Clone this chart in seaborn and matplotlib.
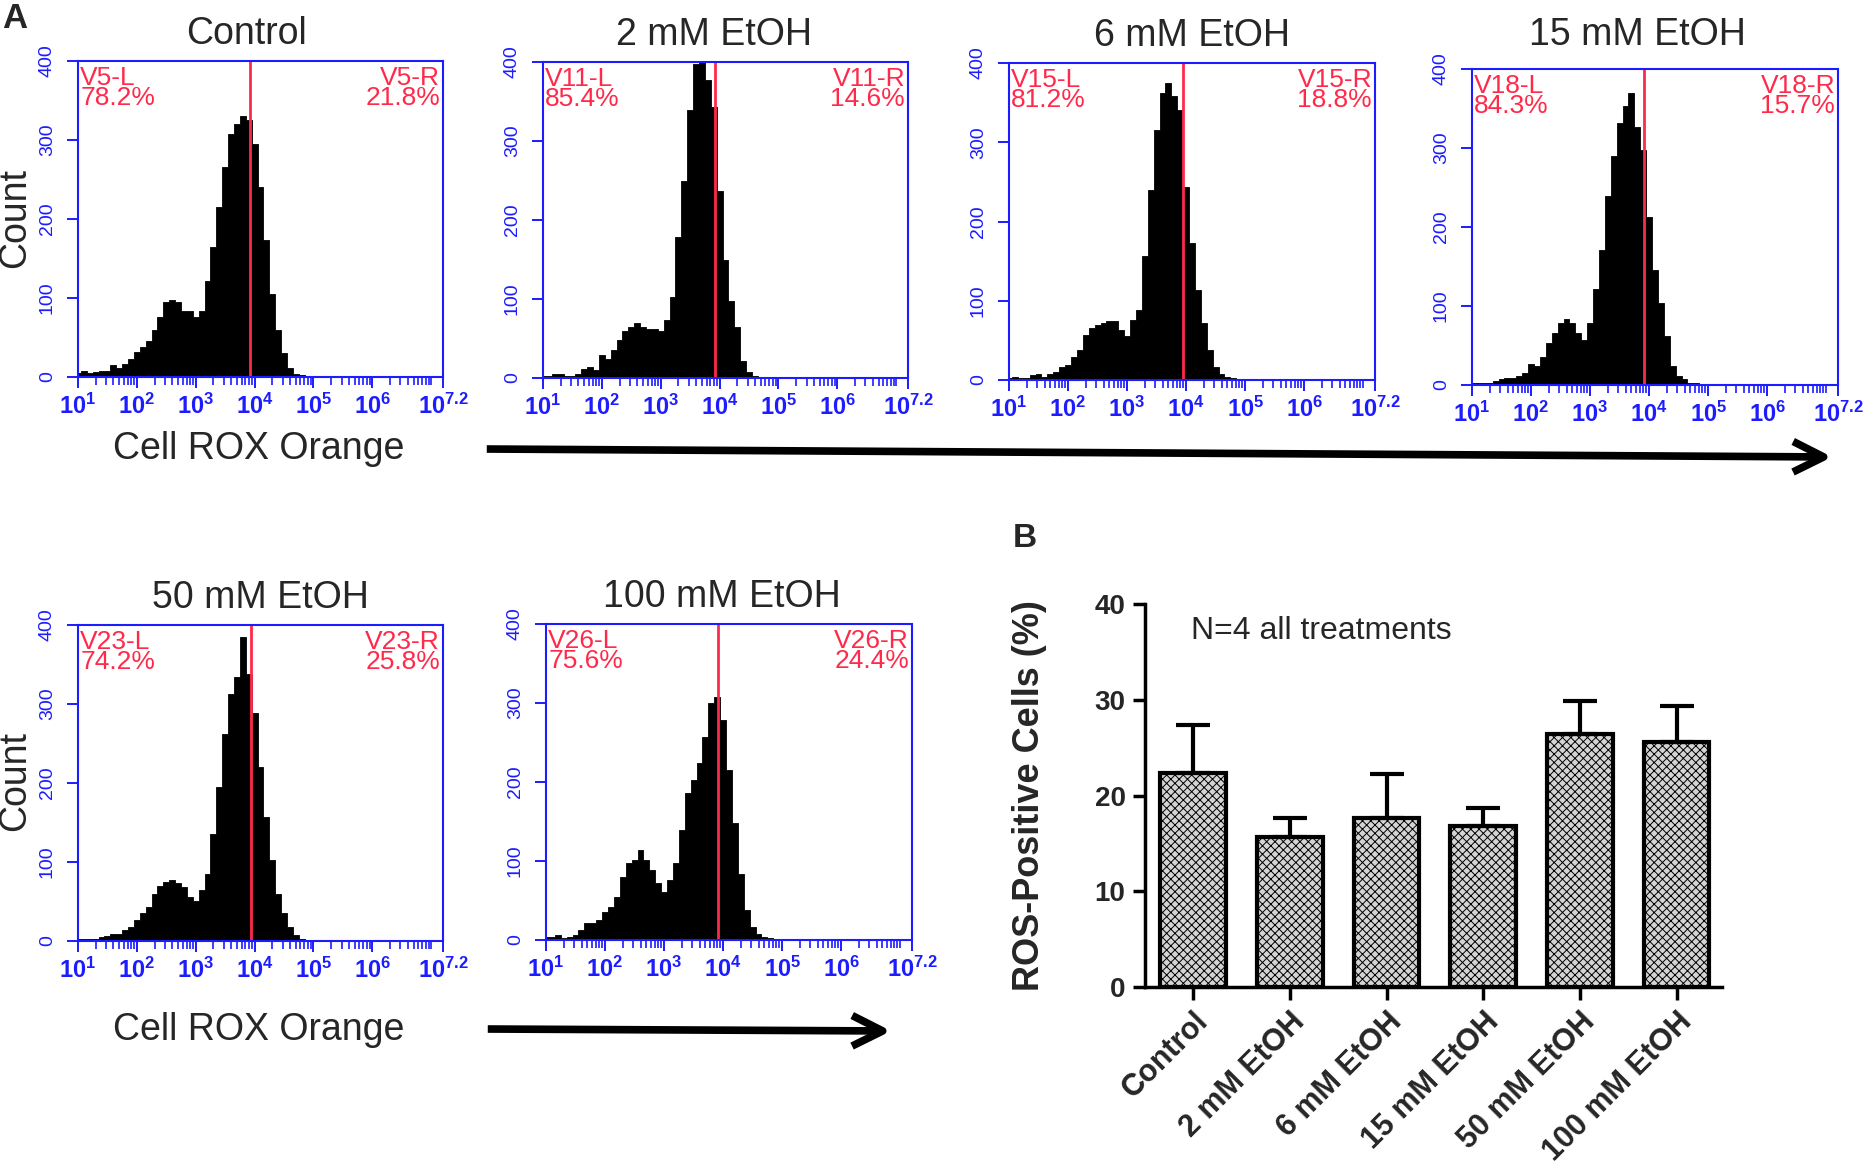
import numpy as np
import pandas as pd
import matplotlib.pyplot as plt
import seaborn as sns
from matplotlib.patches import FancyArrowPatch

sns.set_style('white')
plt.rcParams['font.family'] = ['Liberation Sans', 'DejaVu Sans']
plt.rcParams['mathtext.fontset'] = 'custom'
plt.rcParams['mathtext.rm'] = 'Liberation Sans:bold'
plt.rcParams['mathtext.it'] = 'Liberation Sans:bold'
plt.rcParams['mathtext.bf'] = 'Liberation Sans:bold'
plt.rcParams['hatch.linewidth'] = 0.7
plt.rcParams['hatch.color'] = '#4a4a4a'

BLUE = '#1c1cff'
RED = '#ff2a4a'

# ---- flow cytometry histograms (counts per 0.1-decade bin, log10 intensity 1.0 .. 4.9)
log_fl = np.round(np.arange(1.0, 5.0, 0.1), 1)
edges = [round(float(e), 2) for e in np.arange(0.95, 5.0, 0.1)]

counts_control = [5, 7, 5, 6, 8, 8, 15, 12, 17, 23,
                  32, 38, 46, 59, 76, 95, 97, 95, 84, 84,
                  76, 84, 122, 165, 215, 266, 308, 320, 331, 325,
                  295, 240, 173, 105, 59, 30, 11, 4, 2, 1]
counts_2mM = [3, 3, 5, 5, 3, 3, 5, 12, 14, 10,
              29, 24, 35, 48, 60, 65, 69, 65, 62, 62,
              60, 73, 103, 178, 250, 339, 398, 400, 377, 343,
              237, 149, 98, 65, 22, 8, 3, 1, 1, 0]
counts_6mM = [2, 4, 2, 2, 6, 8, 4, 8, 10, 17,
              19, 29, 38, 57, 65, 69, 72, 74, 74, 63,
              55, 76, 88, 156, 240, 316, 362, 375, 358, 341,
              244, 173, 114, 72, 38, 17, 8, 4, 2, 1]
counts_15mM = [3, 3, 3, 3, 5, 7, 9, 9, 11, 15,
               26, 24, 36, 53, 66, 78, 83, 78, 66, 57,
               78, 121, 171, 239, 290, 332, 353, 370, 327, 298,
               213, 146, 104, 62, 24, 11, 7, 3, 2, 1]
counts_50mM = [3, 3, 3, 3, 5, 6, 9, 9, 14, 18,
               26, 35, 43, 60, 70, 75, 77, 73, 68, 56,
               51, 64, 85, 136, 195, 262, 313, 334, 385, 338,
               288, 220, 157, 102, 60, 35, 18, 7, 3, 1]
counts_100mM = [4, 4, 6, 2, 4, 6, 13, 21, 21, 25,
                36, 42, 55, 80, 97, 101, 114, 101, 89, 72,
                61, 76, 97, 139, 186, 203, 224, 257, 300, 308,
                278, 215, 148, 84, 38, 17, 8, 4, 2, 1]

hist_titles = ['Control', '2 mM EtOH', '6 mM EtOH', '15 mM EtOH', '50 mM EtOH', '100 mM EtOH']
gates = [3.93, 3.93, 3.94, 3.92, 3.94, 3.92]
gate_names = ['V5', 'V11', 'V15', 'V18', 'V23', 'V26']
pct_left = ['78.2%', '85.4%', '81.2%', '84.3%', '74.2%', '75.6%']
pct_right = ['21.8%', '14.6%', '18.8%', '15.7%', '25.8%', '24.4%']

xtick_pos = [1, 2, 3, 4, 5, 6, 7.2]
xtick_lbl = [r'$10^{1}$', r'$10^{2}$', r'$10^{3}$', r'$10^{4}$', r'$10^{5}$', r'$10^{6}$', r'$10^{7.2}$']
ytick_pos = [0, 100, 200, 300, 400]

# ---- bar chart (panel B)
groups = ['Control', '2 mM EtOH', '6 mM EtOH', '15 mM EtOH', '50 mM EtOH', '100 mM EtOH']
ros_mean = [22.3, 15.7, 17.7, 16.8, 26.4, 25.6]
ros_sem = [5.1, 2.0, 4.5, 1.9, 3.5, 3.7]

W, H = 1865, 1170
fig = plt.figure(figsize=(W / 100, H / 100), dpi=100)


def px_axes(left, top, right, bottom):
    return fig.add_axes([left / W, 1 - bottom / H, (right - left) / W, (bottom - top) / H])


# pixel boxes of the six histogram panels, and small title offsets (px) seen in the figure
boxes = [(78, 61, 443, 377), (543, 62, 908, 378), (1009, 63, 1375, 380),
         (1472, 69, 1838, 385), (78, 625, 443, 941), (546, 624, 912, 940)]
title_dx = [-14, -11, 0, -18, 0, -7]
title_pad = [12, 12, 12, 17, 12, 12]
all_counts = [counts_control, counts_2mM, counts_6mM, counts_15mM, counts_50mM, counts_100mM]

minor_pos = [n + np.log10(k) for n in range(1, 7) for k in range(2, 10)] + [7.0]

for i in range(6):
    ax = px_axes(*boxes[i])
    df = pd.DataFrame({'log_fl': log_fl, 'count': all_counts[i]})
    sns.histplot(data=df, x='log_fl', weights='count', bins=edges, element='step', fill=True,
                 color='black', alpha=1, linewidth=0.6, ax=ax)
    ax.axvline(gates[i], color=RED, lw=2)
    ax.set_xlim(1, 7.2)
    ax.set_ylim(0, 400)
    ax.set_xlabel('')
    ax.set_ylabel('')
    ax.set_title(hist_titles[i], fontsize=27, pad=title_pad[i],
                 x=0.5 + title_dx[i] / (boxes[i][2] - boxes[i][0]))
    for s in ax.spines.values():
        s.set_visible(True)
        s.set_color(BLUE)
        s.set_linewidth(1.5)
    ax.set_xticks(xtick_pos)
    ax.set_xticklabels(xtick_lbl, fontsize=17, color=BLUE)
    ax.set_xticks(minor_pos, minor=True)
    ax.set_yticks(ytick_pos)
    ax.set_yticklabels([str(v) for v in ytick_pos], rotation=90, va='center',
                       fontsize=14, color=BLUE)
    ax.tick_params(axis='x', which='major', bottom=True, direction='out', length=8,
                   width=1.4, color=BLUE, pad=4)
    ax.tick_params(axis='x', which='minor', bottom=True, direction='out', length=6,
                   width=1.2, color=BLUE)
    ax.tick_params(axis='y', left=True, direction='out', length=8, width=1.4,
                   color=BLUE, pad=8)
    ax.text(0.006, 0.985, gate_names[i] + '-L\n' + pct_left[i], transform=ax.transAxes,
            ha='left', va='top', color=RED, fontsize=19, linespacing=0.8)
    ax.text(0.992, 0.985, gate_names[i] + '-R\n' + pct_right[i], transform=ax.transAxes,
            ha='right', va='top', multialignment='right', color=RED, fontsize=19,
            linespacing=0.8)

# axis captions for the histogram grid
fig.text(15 / W, 1 - 218 / H, 'Count', rotation=90, ha='center', va='center', fontsize=27)
fig.text(15 / W, 1 - 781 / H, 'Count', rotation=90, ha='center', va='center', fontsize=27)
fig.text(259 / W, 1 - 449 / H, 'Cell ROX Orange', ha='center', va='center', fontsize=27)
fig.text(259 / W, 1 - 1030 / H, 'Cell ROX Orange', ha='center', va='center', fontsize=27)
fig.text(15 / W, 1 - 18 / H, 'A', ha='center', va='center', fontsize=25, fontweight='bold')
fig.text(1025 / W, 1 - 539 / H, 'B', ha='center', va='center', fontsize=24, fontweight='bold')

for (x0, y0), (x1, y1) in [((484, 449), (1835, 457)), ((485, 1029), (894, 1031))]:
    arr = FancyArrowPatch((x0 / W, 1 - y0 / H), (x1 / W, 1 - y1 / H),
                          transform=fig.transFigure,
                          arrowstyle='->,head_length=22,head_width=11',
                          lw=5.5, color='black', capstyle='butt', joinstyle='round')
    fig.add_artist(arr)

# ---- panel B
axb = px_axes(1145, 604, 1722, 987)
sns.barplot(x=groups, y=ros_mean, ax=axb, color='#d4d4d4', saturation=1,
            edgecolor='black', linewidth=3, width=0.68, hatch='xxxx', errorbar=None)
axb.errorbar(np.arange(len(groups)), ros_mean, yerr=[np.zeros(len(groups)), ros_sem],
             fmt='none', ecolor='black', elinewidth=3, capsize=12, capthick=3, zorder=1)
axb.set_xlim(-0.5, 5.47)
axb.set_ylim(0, 40)
axb.set_yticks([0, 10, 20, 30, 40])
axb.set_yticklabels(['0', '10', '20', '30', '40'], fontsize=20, fontweight='bold')
axb.set_xticks(np.arange(len(groups)))
axb.set_xticklabels(groups, rotation=45, ha='right', rotation_mode='anchor',
                    fontsize=22, fontweight='bold')
axb.tick_params(axis='both', direction='out', length=9, width=2.5, left=True,
                bottom=True, color='black', pad=5)
for side in ['top', 'right']:
    axb.spines[side].set_visible(False)
for side in ['left', 'bottom']:
    axb.spines[side].set_color('black')
    axb.spines[side].set_linewidth(2.5)
axb.set_ylabel('ROS-Positive Cells (%)', fontsize=26, fontweight='bold')
axb.yaxis.set_label_coords(-0.17, 0.5)
axb.set_xlabel('')
axb.text(-0.02, 37.2, 'N=4 all treatments', fontsize=23, ha='left', va='center')

fig.savefig('out.png', dpi=100)
